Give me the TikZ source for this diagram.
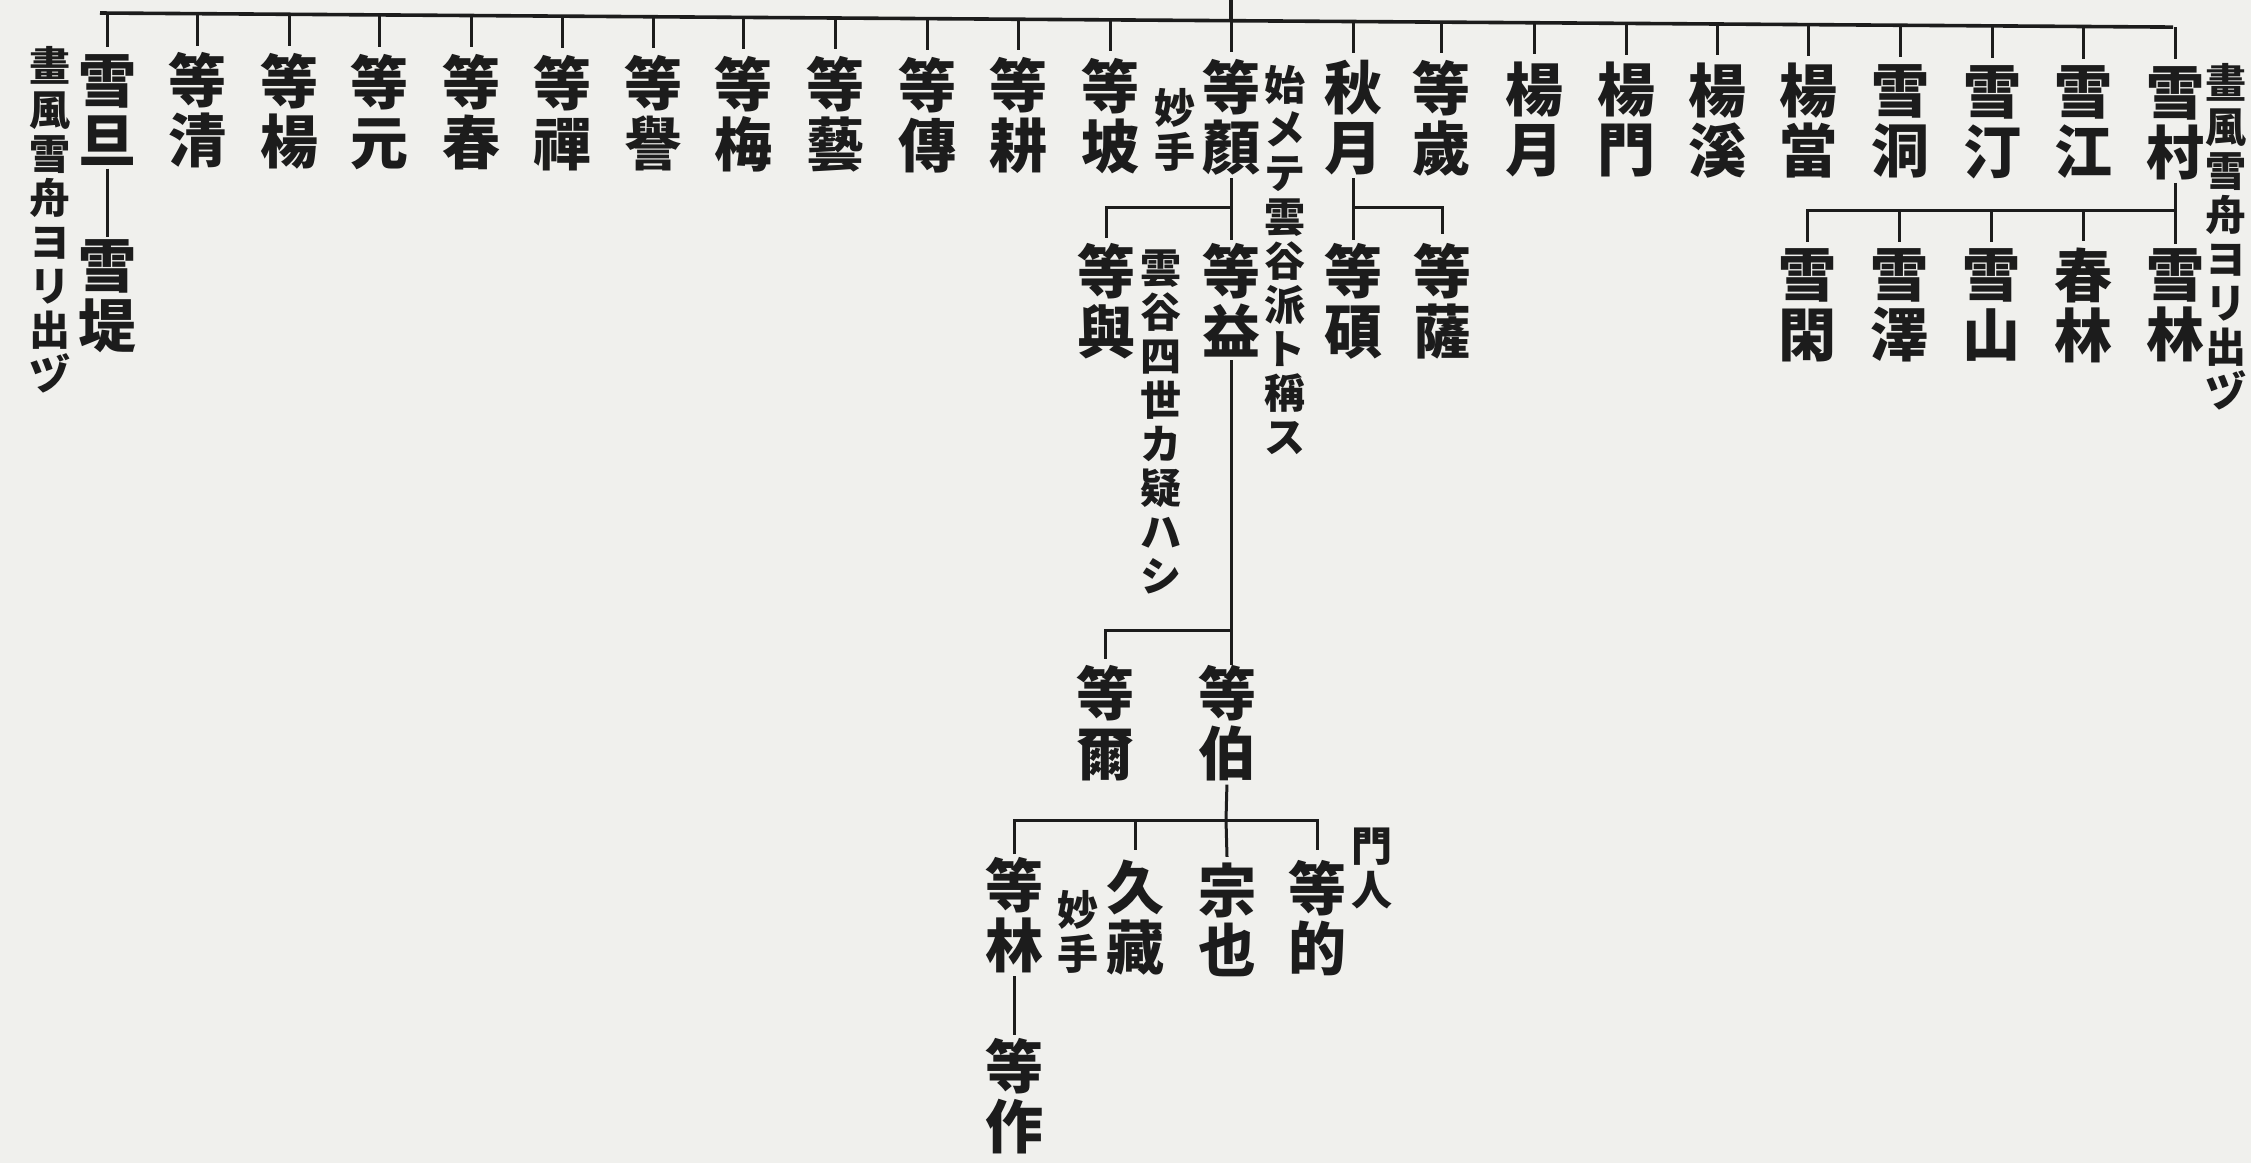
\documentclass[tikz,border=0pt]{standalone}
\usepackage{fontspec}
\newfontfamily\cjk{Noto Sans CJK JP}
\definecolor{paper}{RGB}{240,240,237}
\definecolor{ink}{RGB}{28,28,28}
\begin{document}
\begin{tikzpicture}[x=1pt,y=-1pt,
  kname/.style={inner sep=0pt, align=center, text=ink, font=\cjk\bfseries\fontsize{58}{60}\selectfont},
  knote/.style={inner sep=0pt, align=center, text=ink, font=\cjk\bfseries\fontsize{41}{44}\selectfont},
  lrule/.style={draw=ink, line width=3pt},
  toprule/.style={draw=ink, line width=3.6pt}]
\fill[paper] (0,0) rectangle (2251,1163);
\useasboundingbox (0,0) rectangle (2251,1163);

% top rule and the line rising from it
\coordinate (TL) at (100,13);
\coordinate (TR) at (2173,27.1);
\coordinate (UP) at (1231,-3);
\draw[toprule] (TL) -- (TR);

% first row
\foreach \x/\a/\b [count=\i] in {107/雪/旦, 197/等/清, 289/等/楊, 379/等/元, 471/等/春, 562/等/禪, 653/等/譽, 743/等/梅, 835/等/藝, 927/等/傳, 1018/等/耕, 1110/等/坡, 1231/等/顏, 1353/秋/月, 1441/等/歲, 1534/楊/月, 1626/楊/門, 1717/楊/溪, 1808/楊/當, 1900/雪/洞, 1992/雪/汀, 2083/雪/江, 2175/雪/村}{
  \pgfmathsetmacro\cy{110+0.0063*(\x-107)}
  \pgfmathsetmacro\ly{13+0.0068*(\x-100)}
  \node[kname] (r\i) at (\x,\cy) {\a\\\b};
  \coordinate (t\i) at (\x,\ly);
  \draw[lrule] (t\i) -- ([yshift=7pt]r\i.north);
}
\draw[toprule] (t13) -- (UP);

% notes
\node[knote] (nL) at (50,220) {畫\\風\\雪\\舟\\ヨ\\リ\\出\\ヅ};
\node[knote] (nR) at (2226,237) {畫\\風\\雪\\舟\\ヨ\\リ\\出\\ヅ};
\node[knote] (nM1) at (1175,130) {妙\\手};
\node[knote] (nH) at (1285,260) {始\\メ\\テ\\雲\\谷\\派\\ト\\稱\\ス};
\node[knote] (nU) at (1161,422) {雲\\谷\\四\\世\\カ\\疑\\ハ\\シ};
\node[knote] (nM2) at (1078,932) {妙\\手};
\node[knote] (nK) at (1372,868) {門\\人};

% 雪旦 -> 雪堤
\node[kname] (s1) at (107,296.5) {雪\\堤};
\draw[lrule, shorten <=3pt, shorten >=3pt] (r1.south) -- (s1.north);

% 等顏 branch
\node[kname] (yo) at (1106,301) {等\\與};
\node[kname] (eki) at (1231,300) {等\\益};
\coordinate (j1) at (1231,207);
\draw[lrule, shorten <=3pt, shorten >=3pt] (r13.south) -- (eki.north);
\draw[lrule] (j1) -| ([yshift=5pt]yo.north);

% 秋月 branch
\node[kname] (seki) at (1353,301) {等\\碩};
\node[kname] (satsu) at (1442,301) {等\\薩};
\coordinate (j2) at (1353,207);
\draw[lrule, shorten <=3pt, shorten >=3pt] (r14.south) -- (seki.north);
\draw[lrule] (j2) -| ([yshift=9pt]satsu.north);

% 雪村 branch
\foreach \x/\a/\b [count=\k] in {1807/雪/閑, 1899/雪/澤, 1991/雪/山, 2083/春/林, 2175/雪/林}{
  \node[kname] (c\k) at (\x,305) {\a\\\b};
}
\coordinate (j3) at (2175,210);
\draw[lrule, shorten <=3pt, shorten >=4pt] (r23.south) -- (c5.north);
\draw[lrule] (j3) -| ([yshift=6pt]c1.north);
\foreach \k in {2,3,4}{
  \draw[lrule] (c\k.north |- j3) -- ([yshift=6pt]c\k.north);
}

% 等益 branch
\node[kname] (ji) at (1105,723.5) {等\\爾};
\node[kname] (haku) at (1227,723.5) {等\\伯};
\coordinate (j4) at (1231,630);
\draw[lrule, shorten <=3pt] (eki.south) -- (eki.south |- haku.north);
\draw[lrule] (j4) -| ([yshift=6pt]ji.north);

% 等伯 branch
\node[kname] (rin) at (1014,915) {等\\林};
\node[kname] (kyu) at (1135,918) {久\\藏};
\node[kname] (soya) at (1227,920) {宗\\也};
\node[kname] (teki) at (1317,918) {等\\的};
\coordinate (j5) at (1226,820);
\draw[lrule, shorten <=3pt] (haku.south) -- (j5);
\draw[lrule] ([yshift=3pt]rin.north) |- (teki.north |- j5) -- ([yshift=10pt]teki.north);
\draw[lrule] (kyu.north |- j5) -- ([yshift=10pt]kyu.north);
\draw[lrule] (j5) -- ([yshift=6pt]soya.north);

% 等林 -> 等作
\node[kname] (saku) at (1014,1096.5) {等\\作};
\draw[lrule, shorten <=3pt, shorten >=3pt] (rin.south) -- (saku.north);
\end{tikzpicture}
\end{document}
